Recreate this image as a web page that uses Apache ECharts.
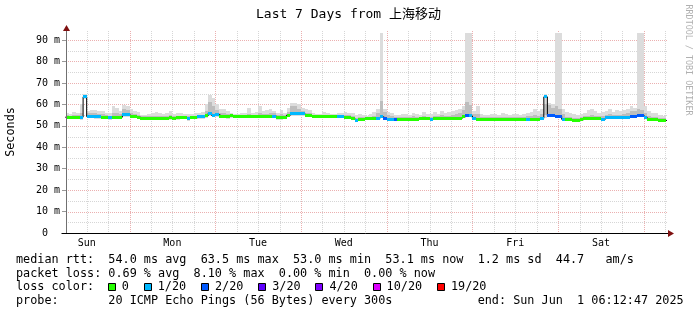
<!DOCTYPE html>
<html><head><meta charset="utf-8">
<script src="https://cdn.jsdelivr.net/npm/echarts@6.0.0/dist/echarts.min.js"></script>
<style>html,body{margin:0;padding:0;background:#fff}#c{width:697px;height:315px}</style>
</head><body><div id="c"></div>
<script>
// ---------- data ----------
const titleText = 'Last 7 Days from 上海移动';
const startHour = 6.2131;   // hours after Sun 00:00 -> Sun May 25 06:12:47
const endHour = 174.2131;   // Sun Jun 1 06:12:47
const firstBin = 6;         // first hourly bin (clock hour)
const dayNames = ['Sun','Mon','Tue','Wed','Thu','Fri','Sat'];
const dayNoon = [12,36,60,84,108,132,156];
const yTicks = [0,10,20,30,40,50,60,70,80,90];
const yMax = 93.28;

const median = [
54.0,54.0,54.0,54.0,54.0,63.5,54.3,54.3,54.3,54.2,54.0,54.0,
53.7,54.0,54.0,54.0,55.2,55.2,54.3,54.2,54.0,53.6,53.6,53.6,
53.5,53.5,53.6,53.6,53.6,53.7,53.6,53.7,53.8,53.8,53.5,53.8,
53.8,54.2,54.2,54.6,55.8,54.8,55.3,54.5,54.5,54.3,54.6,54.3,
54.3,54.3,54.3,54.3,54.3,54.3,54.3,54.3,54.3,54.3,54.5,54.0,
54.0,54.0,55.0,55.7,55.7,55.7,55.6,54.7,54.7,54.3,54.3,54.3,
54.3,54.3,54.3,54.3,54.3,54.3,54.0,54.0,53.2,52.6,53.0,53.0,
53.2,53.2,53.3,53.6,54.2,53.5,53.0,53.0,53.0,53.0,53.0,53.0,
53.0,53.0,53.0,53.2,53.2,53.2,53.0,53.5,53.5,53.5,53.5,53.5,
53.5,53.5,53.5,54.2,54.6,54.6,53.5,53.0,52.9,52.9,52.9,52.9,
52.9,52.9,52.9,52.9,52.9,53.0,53.0,53.0,53.0,53.0,53.0,53.0,
53.0,53.5,63.5,54.6,54.6,54.5,54.5,53.0,52.8,52.8,52.6,52.6,
52.8,53.2,53.2,53.2,53.2,53.2,53.0,53.7,53.7,53.7,53.7,53.9,
53.9,54.0,54.5,54.5,54.7,54.7,53.8,52.8,52.8,52.8,52.6,52.5,
52.5];

const loss = [
0,0,0,0,1,1,1,1,1,1,0,0,
1,0,0,0,1,1,0,0,0,0,0,0,
0,0,0,0,0,0,0,0,0,0,1,0,
0,1,1,0,1,1,1,0,0,0,0,0,
0,0,0,0,0,0,0,0,0,0,1,0,
0,0,0,1,1,1,1,0,0,0,0,0,
0,0,0,0,1,1,0,0,0,1,0,0,
0,0,0,1,1,2,1,1,2,0,0,0,
0,0,0,0,0,0,1,0,0,0,0,0,
0,0,0,0,2,1,1,0,0,0,0,0,
0,0,0,0,0,0,0,0,0,1,0,0,
0,1,1,2,2,2,2,1,0,0,0,0,
0,0,0,0,0,0,1,1,1,1,1,1,
1,1,2,2,2,2,1,0,0,0,0,0,
0];

const smokeMin = [
53.2,53.2,53.0,53.0,52.6,62.5,53.5,53.5,53.3,53.3,53.0,53.0,
52.5,53.0,53.0,53.0,54.0,54.0,53.5,53.5,53.2,52.8,52.8,52.8,
52.6,52.6,52.8,52.8,52.8,52.8,52.6,52.8,53.0,53.0,52.4,53.0,
53.0,53.4,53.4,53.6,54.6,54.0,54.2,53.8,53.8,53.4,53.8,53.5,
53.5,53.5,53.5,53.5,53.5,53.5,53.5,53.5,53.5,53.5,53.5,52.8,
52.8,53.0,54.0,54.6,54.6,54.6,54.6,54.0,54.0,53.5,53.5,53.5,
53.5,53.5,53.5,53.5,53.5,53.5,53.2,53.2,52.5,52.0,52.3,52.3,
52.5,52.5,52.6,53.0,53.5,53.0,52.5,52.5,52.3,52.3,52.3,52.3,
52.3,52.3,52.3,52.5,52.5,52.5,52.3,52.8,52.8,52.8,52.8,52.8,
52.8,52.8,52.8,53.5,54.0,54.0,52.8,52.3,52.2,52.2,52.2,52.2,
52.2,52.2,52.2,52.2,52.2,52.3,52.3,52.3,52.3,52.3,52.3,52.3,
52.3,52.8,53.5,54.0,54.0,53.8,53.8,52.3,52.1,52.1,52.0,52.0,
52.1,52.5,52.5,52.5,52.5,52.5,52.3,53.0,53.0,53.0,53.0,53.0,
53.0,53.2,53.8,53.8,54.0,54.0,53.0,52.1,52.1,52.1,52.0,51.8,
51.8];

const smokeMax = [
56.0,55.5,56.5,56.0,60.0,65.0,57.0,57.5,57.5,56.8,57.0,56.0,
55.8,59.0,58.5,57.0,59.5,59.0,58.0,57.0,56.5,55.2,55.0,55.6,
56.0,56.5,56.0,55.5,56.0,56.8,55.5,56.0,56.2,55.5,55.6,55.5,
56.0,55.8,56.5,60.0,64.5,63.0,60.0,58.0,58.0,57.0,56.0,55.5,
55.5,56.0,56.0,58.5,56.0,56.5,59.0,57.0,57.5,58.0,57.0,56.0,
57.5,56.0,58.5,60.5,60.5,60.0,58.5,58.0,57.5,56.0,55.5,55.5,
56.5,56.0,55.5,55.5,56.0,56.0,56.5,56.0,56.0,55.0,55.5,55.0,
54.8,55.5,56.5,58.0,95.0,58.0,56.5,56.0,55.0,55.0,55.5,55.5,
55.0,56.0,55.5,55.0,56.5,55.5,55.5,56.5,55.5,57.0,56.0,56.5,
57.0,57.5,58.0,59.0,95.0,95.0,57.0,59.0,55.5,55.0,55.0,55.5,
55.5,55.0,56.0,55.5,55.0,55.5,55.5,55.0,55.5,56.0,56.5,58.0,
57.0,58.0,65.0,60.5,60.0,95.0,95.0,58.0,56.5,56.0,55.5,55.0,
55.5,56.0,57.5,58.0,57.0,56.0,56.5,57.0,58.0,56.5,57.5,57.0,
57.5,58.0,59.0,58.5,95.0,95.0,59.0,57.0,56.0,56.0,55.0,54.5,
54.5];

const smokeLo = [
53.6,53.6,53.6,53.6,53.5,63.0,54.0,54.0,54.0,54.0,53.6,53.6,
53.2,53.6,53.6,53.6,54.6,54.6,54.0,53.8,53.6,53.2,53.2,53.2,
53.1,53.1,53.2,53.2,53.2,53.2,53.2,53.2,53.4,53.4,53.0,53.4,
53.4,53.8,53.8,54.0,55.0,54.4,54.6,54.0,54.0,53.9,54.0,53.9,
53.9,53.9,53.9,53.9,53.9,53.9,53.9,53.9,53.9,53.9,54.0,53.5,
53.5,53.5,54.5,55.0,55.0,55.0,55.0,54.2,54.2,53.9,53.9,53.9,
53.9,53.9,53.9,53.9,53.9,53.9,53.6,53.6,52.9,52.3,52.7,52.7,
52.9,52.9,53.0,53.3,54.0,53.3,52.8,52.8,52.7,52.7,52.7,52.7,
52.7,52.7,52.7,52.9,52.9,52.9,52.7,53.2,53.2,53.2,53.2,53.2,
53.2,53.2,53.2,54.0,54.3,54.3,53.2,52.7,52.6,52.6,52.6,52.6,
52.6,52.6,52.6,52.6,52.6,52.7,52.7,52.7,52.7,52.7,52.7,52.7,
52.7,53.2,55.0,54.3,54.3,54.2,54.2,52.7,52.5,52.5,52.3,52.3,
52.5,52.9,52.9,52.9,52.9,52.9,52.7,53.3,53.3,53.3,53.3,53.3,
53.3,53.6,54.2,54.2,54.4,54.4,53.4,52.5,52.5,52.5,52.3,52.2,
52.2];

const smokeHi = [
55.0,54.8,55.2,55.0,56.0,64.5,55.8,56.2,56.0,55.6,55.5,55.0,
54.8,56.0,55.8,55.5,58.0,57.5,56.0,55.5,55.2,54.5,54.4,54.6,
54.6,54.8,54.8,54.5,54.6,55.0,54.6,54.8,54.8,54.6,54.5,54.6,
54.8,55.0,55.2,57.0,61.0,59.0,57.5,56.0,56.0,55.5,55.2,55.0,
55.0,55.0,55.0,55.5,55.0,55.2,55.8,55.5,55.6,56.0,55.8,55.0,
55.5,55.0,56.5,59.0,59.0,58.0,57.0,56.0,56.0,55.0,54.9,54.9,
55.2,55.0,54.9,54.9,55.0,55.0,55.0,55.0,54.5,53.8,54.2,54.0,
54.0,54.2,54.6,56.0,61.7,56.5,55.0,54.5,54.0,54.0,54.2,54.2,
54.0,54.4,54.2,54.2,54.6,54.2,54.2,54.8,54.6,55.0,54.8,54.8,
55.2,55.5,56.0,57.5,61.0,59.5,55.5,55.5,54.0,54.0,54.0,54.2,
54.2,54.0,54.2,54.0,54.0,54.2,54.2,54.0,54.2,54.4,54.6,55.0,
54.8,55.5,60.0,59.5,58.5,59.0,58.0,55.5,54.2,54.0,53.8,53.8,
54.0,54.4,54.8,55.0,54.8,54.4,54.5,55.0,55.5,55.0,55.2,55.2,
55.5,56.0,57.0,57.0,58.0,57.5,56.0,54.5,54.0,54.0,53.8,53.6,
53.6];

const lossKeys = [0,1,2,3,4,10,19];
const lossLabels = ['0','1/20','2/20','3/20','4/20','10/20','19/20'];
const lossColors = ['#26ff00','#00b8ff','#0059ff','#5e00ff','#7e00ff','#dd00ff','#ff0000'];

const statLines = [
  'median rtt:  54.0 ms avg  63.5 ms max  53.0 ms min  53.1 ms now  1.2 ms sd  44.7   am/s',
  'packet loss: 0.69 % avg  8.10 % max  0.00 % min  0.00 % now',
  'loss color:',
  'probe:       20 ICMP Echo Pings (56 Bytes) every 300s            end: Sun Jun  1 06:12:47 2025'
];

// ---------- build ----------
const MONO = "'DejaVu Sans Mono', 'Noto Sans CJK SC', monospace";
const chart = echarts.init(document.getElementById('c'), null, {renderer: 'canvas'});

const smokeData = median.map((m, i) => [firstBin + i, smokeMin[i], smokeMax[i], smokeLo[i], smokeHi[i]]);
const medData = median.map((m, i) => [firstBin + i, m, loss[i]]);

const blackPts = [];
median.forEach((m, i) => { blackPts.push([firstBin + i, m], [firstBin + i + 1, m]); });

function colorOf(l) {
  const k = lossKeys.indexOf(l);
  return lossColors[k >= 0 ? k : lossColors.length - 1];
}

const vGrid = [];
for (let h = 12; h <= endHour; h += 6) vGrid.push([h, 0]);
const hGrid = [];
for (let v = 5; v <= 90; v += 5) hGrid.push([startHour, v]);

const option = {
  backgroundColor: '#ffffff',
  animation: false,
  grid: {left: 66, right: 31, top: 33, bottom: 82, containLabel: false},
  xAxis: {
    type: 'value', min: startHour, max: endHour,
    axisLine: {show: false}, axisTick: {show: false}, splitLine: {show: false},
    axisLabel: {
      customValues: dayNoon,
      formatter: v => dayNames[dayNoon.indexOf(Math.round(v))] || '',
      fontFamily: MONO, fontSize: 10, color: '#000', margin: 5
    }
  },
  yAxis: {
    type: 'value', min: 0, max: yMax,
    axisLine: {show: false}, splitLine: {show: false},
    axisTick: {show: true, customValues: yTicks, length: 4, lineStyle: {color: '#999'}},
    axisLabel: {
      customValues: yTicks,
      formatter: v => (v === 0 ? '0  ' : v + ' m'),
      fontFamily: MONO, fontSize: 10, color: '#000', margin: 6
    }
  },
  series: [
    {
      type: 'custom', name: 'vgrid', data: vGrid, silent: true, z: 1, clip: false,
      renderItem: (params, api) => {
        const cs = params.coordSys;
        const h = api.value(0);
        const x = Math.round(api.coord([h, 0])[0]) + 0.5;
        return {type: 'line', silent: true,
          shape: {x1: x, y1: cs.y - 2, x2: x, y2: cs.y + cs.height},
          style: {stroke: (h % 24 === 0) ? '#ebb0b0' : '#d6d6d6', lineWidth: 1, lineDash: [1, 1]}};
      }
    },
    {
      type: 'custom', name: 'hgrid', data: hGrid, silent: true, z: 1, clip: false,
      renderItem: (params, api) => {
        const cs = params.coordSys;
        const v = api.value(1);
        const y = Math.round(api.coord([startHour, v])[1]) + 0.5;
        return {type: 'line', silent: true,
          shape: {x1: cs.x, y1: y, x2: cs.x + cs.width + 2, y2: y},
          style: {stroke: (v % 10 === 0) ? '#ebb0b0' : '#d6d6d6', lineWidth: 1, lineDash: [1, 1]}};
      }
    },
    {
      type: 'custom', name: 'smoke', data: smokeData, silent: true, z: 2, clip: true,
      renderItem: (params, api) => {
        const t = api.value(0);
        const a = api.coord([t, api.value(1)]), b = api.coord([t + 1, api.value(2)]);
        const c = api.coord([t, api.value(3)]), d = api.coord([t + 1, api.value(4)]);
        const x0 = Math.round(a[0]), x1 = Math.round(b[0]);
        const oy0 = Math.round(b[1]), oy1 = Math.round(a[1]);
        const iy0 = Math.round(d[1]), iy1 = Math.round(c[1]);
        return {type: 'group', children: [
          {type: 'rect', shape: {x: x0, y: oy0, width: x1 - x0, height: oy1 - oy0}, style: {fill: '#dcdcdc'}},
          {type: 'rect', shape: {x: x0, y: iy0, width: x1 - x0, height: iy1 - iy0}, style: {fill: '#bdbdbd'}}
        ]};
      }
    },
    {
      type: 'line', name: 'median', data: blackPts, showSymbol: false, symbol: 'none',
      animation: false, silent: true, z: 4,
      lineStyle: {color: '#000', width: 1}
    },
    {
      type: 'custom', name: 'median loss', data: medData, silent: true, z: 5, clip: true,
      renderItem: (params, api) => {
        const t = api.value(0);
        const a = api.coord([t, api.value(1)]), b = api.coord([t + 1, api.value(1)]);
        const x0 = Math.round(a[0]), x1 = Math.round(b[0]);
        const y0 = Math.round(a[1] - 1.5);
        return {type: 'rect', shape: {x: x0, y: y0, width: x1 - x0, height: 3},
          style: {fill: colorOf(api.value(2))}};
      }
    }
  ]
};
chart.setOption(option);

// ---------- decorations (axes, arrows, texts) ----------
const o = chart.convertToPixel({gridIndex: 0}, [startHour, 0]);
const e = chart.convertToPixel({gridIndex: 0}, [endHour, yMax]);
const ox = Math.round(o[0]) + 0.5, oy = Math.round(o[1]) + 0.5;
const ex = Math.round(e[0]), ty = Math.round(e[1]);

const cw = 11.8 * 0.602;
const lineMid = [259.8, 273.5, 287.2, 300.9];
const g = [];
g.push({type: 'line', silent: true, z: 50, shape: {x1: ox, y1: oy, x2: ox, y2: ty - 3}, style: {stroke: '#707070', lineWidth: 1}});
g.push({type: 'line', silent: true, z: 50, shape: {x1: ox - 5, y1: oy, x2: ex + 3, y2: oy}, style: {stroke: '#000', lineWidth: 1}});
g.push({type: 'polygon', silent: true, z: 51, shape: {points: [[ex + 2, oy - 3.5], [ex + 8, oy], [ex + 2, oy + 3.5]]}, style: {fill: '#7f1010'}});
g.push({type: 'polygon', silent: true, z: 51, shape: {points: [[ox - 3.5, ty - 2], [ox, ty - 8], [ox + 3.5, ty - 2]]}, style: {fill: '#7f1010'}});

g.push({type: 'text', silent: true, x: 348.5, y: 14.6, style: {text: titleText, x: 0, y: 0,
  fontFamily: MONO, fontSize: 13, fill: '#000', align: 'center', verticalAlign: 'middle', textAlign: 'center', textVerticalAlign: 'middle'}});
g.push({type: 'text', silent: true, x: 11, y: 132, rotation: Math.PI / 2, style: {text: 'Seconds', x: 0, y: 0,
  fontFamily: MONO, fontSize: 11.8, fill: '#000', align: 'center', verticalAlign: 'middle', textAlign: 'center', textVerticalAlign: 'middle'}});
g.push({type: 'text', silent: true, x: 688.5, y: 60, rotation: -Math.PI / 2, style: {text: 'RRDTOOL / TOBI OETIKER', x: 0, y: 0,
  fontFamily: MONO, fontSize: 8.4, fill: '#b0b0b0', align: 'center', verticalAlign: 'middle', textAlign: 'center', textVerticalAlign: 'middle'}});

statLines.forEach((s, i) => {
  g.push({type: 'text', silent: true, x: 16, y: lineMid[i], style: {text: s, x: 0, y: 0,
    fontFamily: MONO, fontSize: 11.8, fill: '#000', align: 'left', verticalAlign: 'middle', textAlign: 'left', textVerticalAlign: 'middle'}});
});

let bx = 16 + 13 * cw - 0.5;
lossKeys.forEach((k, i) => {
  g.push({type: 'rect', silent: true, shape: {x: Math.round(bx) + 0.5, y: 283.5, width: 7, height: 7},
    style: {fill: lossColors[i], stroke: '#000', lineWidth: 1}});
  g.push({type: 'text', silent: true, x: bx + 14, y: lineMid[2], style: {text: lossLabels[i], x: 0, y: 0,
    fontFamily: MONO, fontSize: 11.8, fill: '#000', align: 'left', verticalAlign: 'middle', textAlign: 'left', textVerticalAlign: 'middle'}});
  bx += 14 + lossLabels[i].length * cw + 14.8;
});

chart.setOption({graphic: {elements: g}});
</script>
</body></html>
